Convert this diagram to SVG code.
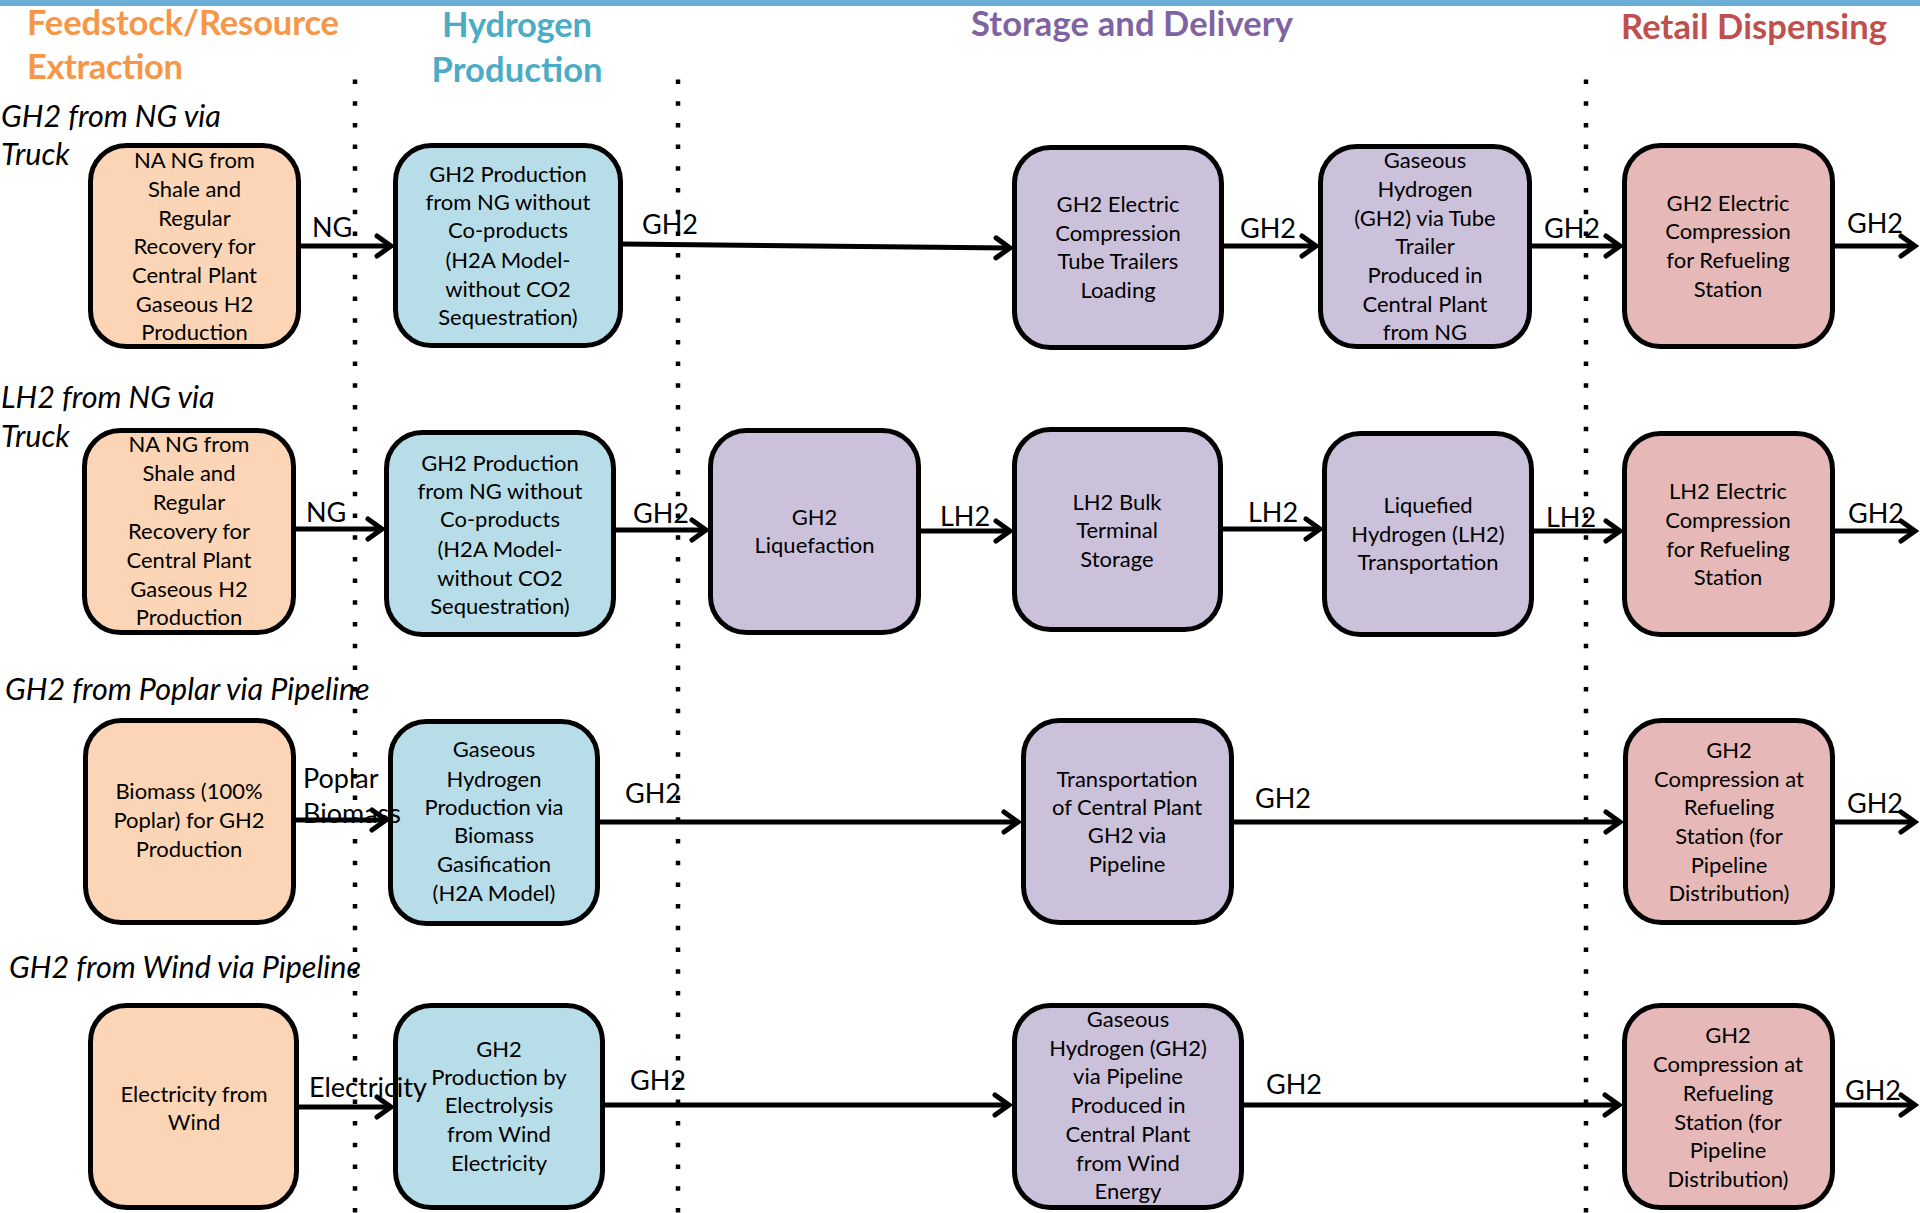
<svg xmlns="http://www.w3.org/2000/svg" width="1920" height="1213" viewBox="0 0 1920 1213">
  <defs>
    <marker id="chev" markerUnits="userSpaceOnUse" markerWidth="30" markerHeight="30" refX="0" refY="0" orient="auto" overflow="visible">
      <path d="M-14,-10 L0,0 L-14,10" fill="none" stroke="#000" stroke-width="5" stroke-linecap="round" stroke-linejoin="miter"/>
    </marker>
  </defs>
  <style>
    .bar { fill: #6baed6; }
    .title { font-family: Lato, "Liberation Sans", sans-serif; font-weight: bold; font-size: 34.5px; }
    .t-feed { fill: #f79646; }
    .t-prod { fill: #4bacc6; }
    .t-stor { fill: #8064a2; }
    .t-retl { fill: #c0504d; }
    .row { font-family: Lato, "Liberation Sans", sans-serif; font-style: italic; font-size: 30.5px; fill: #000; }
    .sep { stroke: #000; stroke-width: 4.5; stroke-dasharray: 4.5 17.2; fill: none; }
    .box { stroke: #000; stroke-width: 5; }
    .feed { fill: #fbd5b5; }
    .prod { fill: #b7dee8; }
    .stor { fill: #ccc1da; }
    .retl { fill: #e6b9b8; }
    .nt { font-family: Lato, "Liberation Sans", sans-serif; font-size: 22px; fill: #000; text-anchor: middle; }
    .edge { stroke: #000; stroke-width: 5; fill: none; marker-end: url(#chev); }
    .lbl { font-family: Lato, "Liberation Sans", sans-serif; font-size: 27px; fill: #000; }
  </style>

  <!-- header strip -->
  <rect class="bar" x="0" y="0" width="1920" height="6"/>

  <!-- stage headings -->
  <g id="headings">
    <text class="title t-feed" x="27" y="35" textLength="312">Feedstock/Resource</text>
    <text class="title t-feed" x="27" y="79" textLength="156">Extraction</text>
    <text class="title t-prod" x="517" y="37" text-anchor="middle" textLength="150">Hydrogen</text>
    <text class="title t-prod" x="517" y="82" text-anchor="middle" textLength="171">Production</text>
    <text class="title t-stor" x="1132" y="36" text-anchor="middle" textLength="322">Storage and Delivery</text>
    <text class="title t-retl" x="1754" y="39" text-anchor="middle" textLength="266">Retail Dispensing</text>
  </g>

  <!-- pathway names -->
  <g id="pathways">
    <text class="row" x="1" y="127">GH2 from NG via</text>
    <text class="row" x="1" y="165">Truck</text>
    <text class="row" x="1" y="408">LH2 from NG via</text>
    <text class="row" x="1" y="447">Truck</text>
    <text class="row" x="5" y="700">GH2 from Poplar via Pipeline</text>
    <text class="row" x="9" y="978">GH2 from Wind via Pipeline</text>
  </g>

  <!-- stage boundaries -->
  <g id="separators">
    <line class="sep" x1="355" y1="79.5" x2="355" y2="1213"/>
    <line class="sep" x1="678" y1="79.5" x2="678" y2="1213"/>
    <line class="sep" x1="1586" y1="79.5" x2="1586" y2="1213"/>
  </g>

  <!-- row 1: GH2 from NG via truck -->
  <g id="r1-feed">
    <rect class="box feed" x="90.5" y="145.5" width="208" height="201" rx="36"/>
    <text class="nt"><tspan x="194.5" y="168">NA NG from</tspan><tspan x="194.5" y="197">Shale and</tspan><tspan x="194.5" y="226">Regular</tspan><tspan x="194.5" y="254">Recovery for</tspan><tspan x="194.5" y="283">Central Plant</tspan><tspan x="194.5" y="312">Gaseous H2</tspan><tspan x="194.5" y="340">Production</tspan></text>
  </g>
  <g id="r1-prod">
    <rect class="box prod" x="395.5" y="145.5" width="225" height="200" rx="36"/>
    <text class="nt"><tspan x="508" y="182">GH2 Production</tspan><tspan x="508" y="210">from NG without</tspan><tspan x="508" y="238">Co-products</tspan><tspan x="508" y="268">(H2A Model-</tspan><tspan x="508" y="297">without CO2</tspan><tspan x="508" y="325">Sequestration)</tspan></text>
  </g>
  <g id="r1-load">
    <rect class="box stor" x="1014.5" y="147.5" width="207" height="200" rx="36"/>
    <text class="nt"><tspan x="1118" y="212">GH2 Electric</tspan><tspan x="1118" y="241">Compression</tspan><tspan x="1118" y="269">Tube Trailers</tspan><tspan x="1118" y="298">Loading</tspan></text>
  </g>
  <g id="r1-trailer">
    <rect class="box stor" x="1320.5" y="146.5" width="209" height="200" rx="36"/>
    <text class="nt"><tspan x="1425" y="168">Gaseous</tspan><tspan x="1425" y="197">Hydrogen</tspan><tspan x="1425" y="226">(GH2) via Tube</tspan><tspan x="1425" y="254">Trailer</tspan><tspan x="1425" y="283">Produced in</tspan><tspan x="1425" y="312">Central Plant</tspan><tspan x="1425" y="340">from NG</tspan></text>
  </g>
  <g id="r1-retail">
    <rect class="box retl" x="1624.5" y="145.5" width="208" height="201" rx="36"/>
    <text class="nt"><tspan x="1728" y="211">GH2 Electric</tspan><tspan x="1728" y="239">Compression</tspan><tspan x="1728" y="268">for Refueling</tspan><tspan x="1728" y="297">Station</tspan></text>
  </g>

  <!-- row 2: LH2 from NG via truck -->
  <g id="r2-feed">
    <rect class="box feed" x="84.5" y="430.5" width="209" height="202" rx="36"/>
    <text class="nt"><tspan x="189" y="452">NA NG from</tspan><tspan x="189" y="481">Shale and</tspan><tspan x="189" y="510">Regular</tspan><tspan x="189" y="539">Recovery for</tspan><tspan x="189" y="568">Central Plant</tspan><tspan x="189" y="597">Gaseous H2</tspan><tspan x="189" y="625">Production</tspan></text>
  </g>
  <g id="r2-prod">
    <rect class="box prod" x="386.5" y="432.5" width="227" height="202" rx="36"/>
    <text class="nt"><tspan x="500" y="471">GH2 Production</tspan><tspan x="500" y="499">from NG without</tspan><tspan x="500" y="527">Co-products</tspan><tspan x="500" y="557">(H2A Model-</tspan><tspan x="500" y="586">without CO2</tspan><tspan x="500" y="614">Sequestration)</tspan></text>
  </g>
  <g id="r2-liquefy">
    <rect class="box stor" x="710.5" y="430.5" width="208" height="202" rx="36"/>
    <text class="nt"><tspan x="814.5" y="525">GH2</tspan><tspan x="814.5" y="553">Liquefaction</tspan></text>
  </g>
  <g id="r2-terminal">
    <rect class="box stor" x="1014.5" y="429.5" width="206" height="200" rx="36"/>
    <text class="nt"><tspan x="1117" y="510">LH2 Bulk</tspan><tspan x="1117" y="538">Terminal</tspan><tspan x="1117" y="567">Storage</tspan></text>
  </g>
  <g id="r2-transport">
    <rect class="box stor" x="1324.5" y="433.5" width="207" height="201" rx="36"/>
    <text class="nt"><tspan x="1428" y="513">Liquefied</tspan><tspan x="1428" y="542">Hydrogen (LH2)</tspan><tspan x="1428" y="570">Transportation</tspan></text>
  </g>
  <g id="r2-retail">
    <rect class="box retl" x="1624.5" y="433.5" width="208" height="201" rx="36"/>
    <text class="nt"><tspan x="1728" y="499">LH2 Electric</tspan><tspan x="1728" y="528">Compression</tspan><tspan x="1728" y="557">for Refueling</tspan><tspan x="1728" y="585">Station</tspan></text>
  </g>

  <!-- row 3: GH2 from poplar via pipeline -->
  <g id="r3-feed">
    <rect class="box feed" x="85.5" y="720.5" width="208" height="202" rx="36"/>
    <text class="nt"><tspan x="189" y="799">Biomass (100%</tspan><tspan x="189" y="828">Poplar) for GH2</tspan><tspan x="189" y="857">Production</tspan></text>
  </g>
  <g id="r3-prod">
    <rect class="box prod" x="390.5" y="721.5" width="207" height="202" rx="36"/>
    <text class="nt"><tspan x="494" y="757">Gaseous</tspan><tspan x="494" y="787">Hydrogen</tspan><tspan x="494" y="815">Production via</tspan><tspan x="494" y="843">Biomass</tspan><tspan x="494" y="872">Gasification</tspan><tspan x="494" y="901">(H2A Model)</tspan></text>
  </g>
  <g id="r3-pipeline">
    <rect class="box stor" x="1023.5" y="720.5" width="208" height="202" rx="36"/>
    <text class="nt"><tspan x="1127" y="787">Transportation</tspan><tspan x="1127" y="815">of Central Plant</tspan><tspan x="1127" y="843">GH2 via</tspan><tspan x="1127" y="872">Pipeline</tspan></text>
  </g>
  <g id="r3-retail">
    <rect class="box retl" x="1625.5" y="720.5" width="207" height="202" rx="36"/>
    <text class="nt"><tspan x="1729" y="758">GH2</tspan><tspan x="1729" y="787">Compression at</tspan><tspan x="1729" y="815">Refueling</tspan><tspan x="1729" y="844">Station (for</tspan><tspan x="1729" y="873">Pipeline</tspan><tspan x="1729" y="901">Distribution)</tspan></text>
  </g>

  <!-- row 4: GH2 from wind via pipeline -->
  <g id="r4-feed">
    <rect class="box feed" x="90.5" y="1005.5" width="206" height="202" rx="36"/>
    <text class="nt"><tspan x="194" y="1102">Electricity from</tspan><tspan x="194" y="1130">Wind</tspan></text>
  </g>
  <g id="r4-prod">
    <rect class="box prod" x="395.5" y="1005.5" width="207" height="202" rx="36"/>
    <text class="nt"><tspan x="499" y="1057">GH2</tspan><tspan x="499" y="1085">Production by</tspan><tspan x="499" y="1113">Electrolysis</tspan><tspan x="499" y="1142">from Wind</tspan><tspan x="499" y="1171">Electricity</tspan></text>
  </g>
  <g id="r4-pipeline">
    <rect class="box stor" x="1014.5" y="1005.5" width="227" height="202" rx="36"/>
    <text class="nt"><tspan x="1128" y="1027">Gaseous</tspan><tspan x="1128" y="1056">Hydrogen (GH2)</tspan><tspan x="1128" y="1084">via Pipeline</tspan><tspan x="1128" y="1113">Produced in</tspan><tspan x="1128" y="1142">Central Plant</tspan><tspan x="1128" y="1171">from Wind</tspan><tspan x="1128" y="1199">Energy</tspan></text>
  </g>
  <g id="r4-retail">
    <rect class="box retl" x="1624.5" y="1005.5" width="208" height="202" rx="36"/>
    <text class="nt"><tspan x="1728" y="1043">GH2</tspan><tspan x="1728" y="1072">Compression at</tspan><tspan x="1728" y="1101">Refueling</tspan><tspan x="1728" y="1130">Station (for</tspan><tspan x="1728" y="1158">Pipeline</tspan><tspan x="1728" y="1187">Distribution)</tspan></text>
  </g>

  <!-- flows between stages -->
  <g id="connectors">
    <line class="edge" x1="301" y1="246" x2="391" y2="246"/>
    <line class="edge" x1="623" y1="244" x2="1010" y2="248"/>
    <line class="edge" x1="1224" y1="246" x2="1316" y2="246"/>
    <line class="edge" x1="1532" y1="246" x2="1620" y2="246"/>
    <line class="edge" x1="1835" y1="246" x2="1915" y2="246"/>

    <line class="edge" x1="296" y1="529" x2="382" y2="529"/>
    <line class="edge" x1="616" y1="530" x2="706" y2="530"/>
    <line class="edge" x1="921" y1="531" x2="1010" y2="531"/>
    <line class="edge" x1="1223" y1="529" x2="1320" y2="529"/>
    <line class="edge" x1="1534" y1="531" x2="1620" y2="531"/>
    <line class="edge" x1="1835" y1="531" x2="1915" y2="531"/>

    <line class="edge" x1="296" y1="820" x2="386" y2="820"/>
    <line class="edge" x1="600" y1="822" x2="1018" y2="822"/>
    <line class="edge" x1="1234" y1="822" x2="1620" y2="822"/>
    <line class="edge" x1="1835" y1="822" x2="1915" y2="822"/>

    <line class="edge" x1="299" y1="1107" x2="391" y2="1107"/>
    <line class="edge" x1="605" y1="1105" x2="1009" y2="1105"/>
    <line class="edge" x1="1244" y1="1105" x2="1619" y2="1105"/>
    <line class="edge" x1="1835" y1="1105" x2="1915" y2="1105"/>

    <text class="lbl" x="312" y="237">NG</text>
    <text class="lbl" x="642" y="234">GH2</text>
    <text class="lbl" x="1240" y="238">GH2</text>
    <text class="lbl" x="1544" y="238">GH2</text>
    <text class="lbl" x="1847" y="233">GH2</text>

    <text class="lbl" x="306" y="522">NG</text>
    <text class="lbl" x="633" y="523">GH2</text>
    <text class="lbl" x="940" y="526">LH2</text>
    <text class="lbl" x="1248" y="522">LH2</text>
    <text class="lbl" x="1546" y="527">LH2</text>
    <text class="lbl" x="1848" y="523">GH2</text>

    <text class="lbl" x="303" y="788">Poplar</text>
    <text class="lbl" x="303" y="823">Biomass</text>
    <text class="lbl" x="625" y="803">GH2</text>
    <text class="lbl" x="1255" y="808">GH2</text>
    <text class="lbl" x="1847" y="813">GH2</text>

    <text class="lbl" x="309" y="1097">Electricity</text>
    <text class="lbl" x="630" y="1090">GH2</text>
    <text class="lbl" x="1266" y="1094">GH2</text>
    <text class="lbl" x="1845" y="1100">GH2</text>
  </g>
</svg>
